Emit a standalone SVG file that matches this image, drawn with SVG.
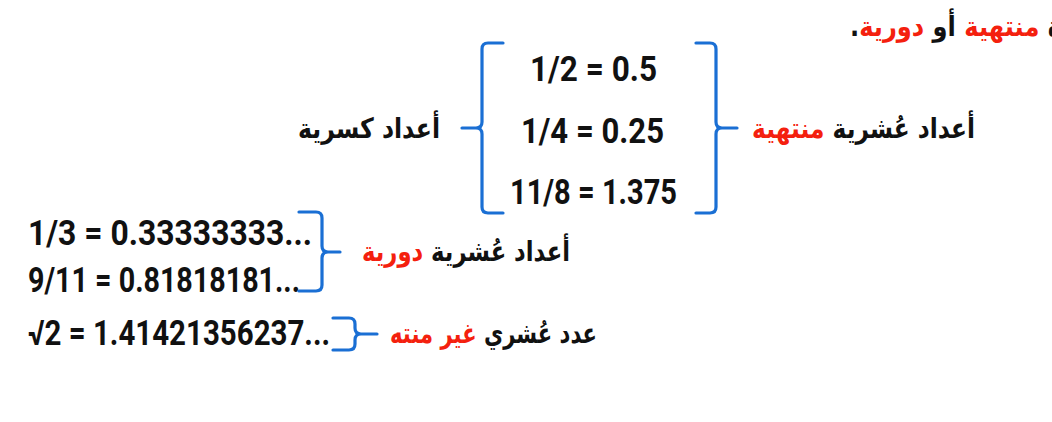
<svg xmlns="http://www.w3.org/2000/svg" width="1052" height="422" viewBox="0 0 1052 422">
<style>
.num{font-family:Roboto,"Liberation Sans",sans-serif;font-weight:bold;fill:#111;font-size:35px}
.ar{font-family:"DejaVu Sans","Noto Sans",sans-serif;font-weight:bold;fill:#111;font-size:28px}
.red{fill:#f4200e}
.br{fill:none;stroke:#1a6fd4;stroke-width:3.2;stroke-linecap:round;stroke-linejoin:round}
</style>
<rect width="1052" height="422" fill="#fff"/>
<g id="top-line">
<text class="ar" direction="rtl" text-anchor="start" x="1062" y="36" textLength="212" lengthAdjust="spacingAndGlyphs">ة <tspan class="red">منتهية</tspan> أو <tspan class="red">دورية</tspan>.</text>
</g>
<g id="node-fractions">
<text class="ar" direction="rtl" text-anchor="start" x="440" y="138" textLength="142" lengthAdjust="spacingAndGlyphs">أعداد كسرية</text>
</g>
<g id="node-terminating-values">
<text class="num" x="530" y="81" textLength="127" lengthAdjust="spacingAndGlyphs">1/2 = 0.5</text>
<text class="num" x="521" y="143" textLength="143" lengthAdjust="spacingAndGlyphs">1/4 = 0.25</text>
<text class="num" x="510" y="204" textLength="167" lengthAdjust="spacingAndGlyphs">11/8 = 1.375</text>
</g>
<g id="node-terminating">
<text class="ar" direction="rtl" text-anchor="start" x="975" y="138" textLength="223" lengthAdjust="spacingAndGlyphs">أعداد عُشرية <tspan class="red">منتهية</tspan></text>
</g>
<g id="node-repeating-values">
<text class="num" x="28" y="245" textLength="284" lengthAdjust="spacingAndGlyphs">1/3 = 0.33333333...</text>
<text class="num" x="28" y="292" textLength="272" lengthAdjust="spacingAndGlyphs">9/11 = 0.81818181...</text>
</g>
<g id="node-repeating">
<text class="ar" direction="rtl" text-anchor="start" x="570" y="261" textLength="208" lengthAdjust="spacingAndGlyphs">أعداد عُشرية <tspan class="red">دورية</tspan></text>
</g>
<g id="node-irrational-value">
<text class="num" x="28" y="345" textLength="302" lengthAdjust="spacingAndGlyphs">√2 = 1.41421356237...</text>
</g>
<g id="node-irrational">
<text class="ar" direction="rtl" text-anchor="start" x="597" y="343" textLength="207" lengthAdjust="spacingAndGlyphs">عدد عُشري <tspan class="red">غير منته</tspan></text>
</g>
<g id="connectors">
<path class="br" d="M503,43 H488 Q482,43 482,49 V122 Q482,128 476,128 H462 M476,128 Q482,128 482,134 V207 Q482,213 488,213 H503"/>
<path class="br" d="M696,43 H710 Q716,43 716,49 V122 Q716,128 722,128 H737 M722,128 Q716,128 716,134 V207 Q716,213 710,213 H696"/>
<path class="br" d="M299,212 H316 Q322,212 322,218 V246 Q322,252 328,252 H340 M328,252 Q322,252 322,258 V285 Q322,291 316,291 H299"/>
<path class="br" d="M333,318 H349 Q355,318 355,324 V328 Q355,334 361,334 H377 M361,334 Q355,334 355,340 V344 Q355,350 349,350 H333"/>
</g>
</svg>
